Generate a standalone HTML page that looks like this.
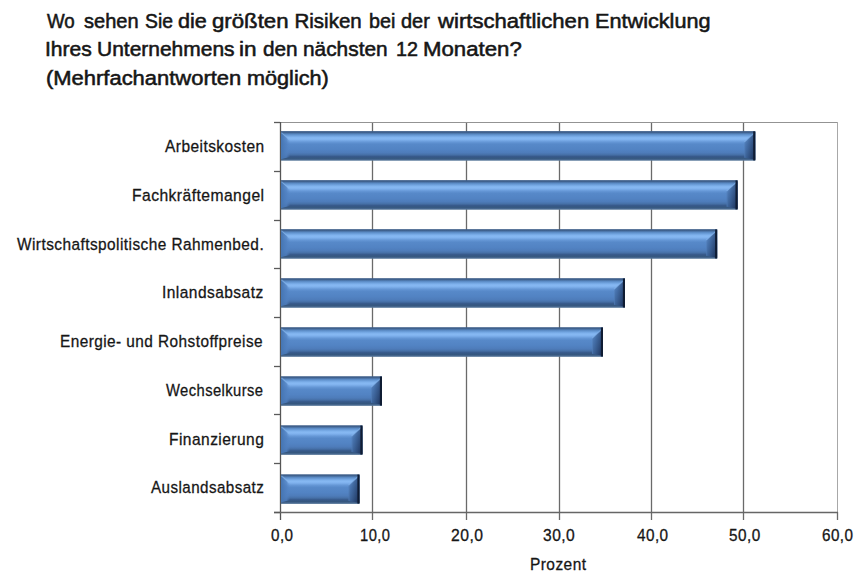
<!DOCTYPE html>
<html><head><meta charset="utf-8">
<style>
html,body{margin:0;padding:0;background:#fff;}
body{width:863px;height:584px;position:relative;overflow:hidden;font-family:"Liberation Sans",sans-serif;color:#161616;}
.t{position:absolute;white-space:nowrap;transform-origin:0 0;}
.title{font-size:20.5px;line-height:20.5px;-webkit-text-stroke:0.55px #161616;}
.lab{font-size:17.4px;line-height:17.4px;-webkit-text-stroke:0.3px #161616;letter-spacing:0.5px;}
.tk{font-size:17px;line-height:17px;}
svg{position:absolute;left:0;top:0;}
</style></head><body>

<svg width="863" height="584" viewBox="0 0 863 584">
<defs>
<linearGradient id="bg" x1="0" y1="0" x2="0" y2="1">
<stop offset="0" stop-color="#3c5c87"/>
<stop offset="0.05" stop-color="#40628f"/>
<stop offset="0.10" stop-color="#5888c2"/>
<stop offset="0.17" stop-color="#73a6e2"/>
<stop offset="0.23" stop-color="#87b9f3"/>
<stop offset="0.29" stop-color="#80b2ee"/>
<stop offset="0.37" stop-color="#6597d6"/>
<stop offset="0.44" stop-color="#5789c9"/>
<stop offset="0.62" stop-color="#5283c3"/>
<stop offset="0.73" stop-color="#4e7cba"/>
<stop offset="0.80" stop-color="#4670a7"/>
<stop offset="0.86" stop-color="#37598a"/>
<stop offset="0.92" stop-color="#35577f"/>
<stop offset="0.97" stop-color="#4a6a92"/>
<stop offset="1" stop-color="#5a7a9a"/>
</linearGradient>
<linearGradient id="rb" x1="0" y1="0" x2="1" y2="0.6">
<stop offset="0" stop-color="#4f7dba" stop-opacity="0.45"/>
<stop offset="0.45" stop-color="#3f679e" stop-opacity="0.92"/>
<stop offset="1" stop-color="#233c66"/>
</linearGradient>
<linearGradient id="lb" x1="0" y1="0" x2="1" y2="0">
<stop offset="0" stop-color="#4575b2"/>
<stop offset="0.6" stop-color="#5080c0" stop-opacity="0.8"/>
<stop offset="1" stop-color="#5687c8" stop-opacity="0"/>
</linearGradient>
</defs>
<rect x="280.5" y="122.5" width="557" height="390" fill="#fff" stroke="#a8a8a8" stroke-width="1"/>
<line x1="280" y1="122.5" x2="837" y2="122.5" stroke="#939393" stroke-width="1.1"/>
<line x1="372.5" y1="123" x2="372.5" y2="520" stroke="#6a6a6a" stroke-width="1.3"/>
<line x1="466.5" y1="123" x2="466.5" y2="520" stroke="#6a6a6a" stroke-width="1.3"/>
<line x1="559.5" y1="123" x2="559.5" y2="520" stroke="#6a6a6a" stroke-width="1.3"/>
<line x1="651.5" y1="123" x2="651.5" y2="520" stroke="#6a6a6a" stroke-width="1.3"/>
<line x1="743.5" y1="123" x2="743.5" y2="520" stroke="#6a6a6a" stroke-width="1.3"/>
<line x1="837.5" y1="512" x2="837.5" y2="520" stroke="#6a6a6a" stroke-width="1.3"/>
<line x1="280.5" y1="122" x2="280.5" y2="520" stroke="#555" stroke-width="1.3"/>
<line x1="274" y1="512.5" x2="838" y2="512.5" stroke="#666" stroke-width="1.3"/>
<line x1="274" y1="122.5" x2="280" y2="122.5" stroke="#5a5a5a" stroke-width="1.3"/>
<line x1="274" y1="171.5" x2="280" y2="171.5" stroke="#5a5a5a" stroke-width="1.3"/>
<line x1="274" y1="220.5" x2="280" y2="220.5" stroke="#5a5a5a" stroke-width="1.3"/>
<line x1="274" y1="268.5" x2="280" y2="268.5" stroke="#5a5a5a" stroke-width="1.3"/>
<line x1="274" y1="317.5" x2="280" y2="317.5" stroke="#5a5a5a" stroke-width="1.3"/>
<line x1="274" y1="366.5" x2="280" y2="366.5" stroke="#5a5a5a" stroke-width="1.3"/>
<line x1="274" y1="414.5" x2="280" y2="414.5" stroke="#5a5a5a" stroke-width="1.3"/>
<line x1="274" y1="463.5" x2="280" y2="463.5" stroke="#5a5a5a" stroke-width="1.3"/>
<line x1="274" y1="512.5" x2="280" y2="512.5" stroke="#5a5a5a" stroke-width="1.3"/>
<rect x="281" y="131.1" width="474.3" height="29.6" fill="url(#bg)"/>
<polygon points="281,132.6 290,140.1 290,156.7 281,159.2" fill="url(#lb)"/>
<line x1="281.5" y1="132.6" x2="289" y2="139.6" stroke="#8dbcf0" stroke-width="1.2" opacity="0.55"/>
<polygon points="755.3,132.1 744.3,142.1 744.3,157.7 755.3,159.7" fill="url(#rb)"/>
<line x1="754.8" y1="132.6" x2="744.3" y2="142.1" stroke="#86b6ee" stroke-width="1.2" opacity="0.6"/>
<line x1="744.8" y1="142.1" x2="744.8" y2="157.7" stroke="#6a9ad6" stroke-width="0.8" opacity="0.3"/>
<rect x="753.2" y="131.4" width="2.1" height="29" fill="#0f1c33"/>
<rect x="281" y="180.13" width="456.6" height="29.6" fill="url(#bg)"/>
<polygon points="281,181.63 290,189.13 290,205.73 281,208.23" fill="url(#lb)"/>
<line x1="281.5" y1="181.63" x2="289" y2="188.63" stroke="#8dbcf0" stroke-width="1.2" opacity="0.55"/>
<polygon points="737.6,181.13 726.6,191.13 726.6,206.73 737.6,208.73" fill="url(#rb)"/>
<line x1="737.1" y1="181.63" x2="726.6" y2="191.13" stroke="#86b6ee" stroke-width="1.2" opacity="0.6"/>
<line x1="727.1" y1="191.13" x2="727.1" y2="206.73" stroke="#6a9ad6" stroke-width="0.8" opacity="0.3"/>
<rect x="735.5" y="180.43" width="2.1" height="29" fill="#0f1c33"/>
<rect x="281" y="229.16" width="436.2" height="29.6" fill="url(#bg)"/>
<polygon points="281,230.66 290,238.16 290,254.76 281,257.26" fill="url(#lb)"/>
<line x1="281.5" y1="230.66" x2="289" y2="237.66" stroke="#8dbcf0" stroke-width="1.2" opacity="0.55"/>
<polygon points="717.2,230.16 706.2,240.16 706.2,255.76 717.2,257.76" fill="url(#rb)"/>
<line x1="716.7" y1="230.66" x2="706.2" y2="240.16" stroke="#86b6ee" stroke-width="1.2" opacity="0.6"/>
<line x1="706.7" y1="240.16" x2="706.7" y2="255.76" stroke="#6a9ad6" stroke-width="0.8" opacity="0.3"/>
<rect x="715.1" y="229.46" width="2.1" height="29" fill="#0f1c33"/>
<rect x="281" y="278.19" width="344" height="29.6" fill="url(#bg)"/>
<polygon points="281,279.69 290,287.19 290,303.79 281,306.29" fill="url(#lb)"/>
<line x1="281.5" y1="279.69" x2="289" y2="286.69" stroke="#8dbcf0" stroke-width="1.2" opacity="0.55"/>
<polygon points="625,279.19 614,289.19 614,304.79 625,306.79" fill="url(#rb)"/>
<line x1="624.5" y1="279.69" x2="614" y2="289.19" stroke="#86b6ee" stroke-width="1.2" opacity="0.6"/>
<line x1="614.5" y1="289.19" x2="614.5" y2="304.79" stroke="#6a9ad6" stroke-width="0.8" opacity="0.3"/>
<rect x="622.9" y="278.49" width="2.1" height="29" fill="#0f1c33"/>
<rect x="281" y="327.22" width="322" height="29.6" fill="url(#bg)"/>
<polygon points="281,328.72 290,336.22 290,352.82 281,355.32" fill="url(#lb)"/>
<line x1="281.5" y1="328.72" x2="289" y2="335.72" stroke="#8dbcf0" stroke-width="1.2" opacity="0.55"/>
<polygon points="603,328.22 592,338.22 592,353.82 603,355.82" fill="url(#rb)"/>
<line x1="602.5" y1="328.72" x2="592" y2="338.22" stroke="#86b6ee" stroke-width="1.2" opacity="0.6"/>
<line x1="592.5" y1="338.22" x2="592.5" y2="353.82" stroke="#6a9ad6" stroke-width="0.8" opacity="0.3"/>
<rect x="600.9" y="327.52" width="2.1" height="29" fill="#0f1c33"/>
<rect x="281" y="376.25" width="101" height="29.6" fill="url(#bg)"/>
<polygon points="281,377.75 290,385.25 290,401.85 281,404.35" fill="url(#lb)"/>
<line x1="281.5" y1="377.75" x2="289" y2="384.75" stroke="#8dbcf0" stroke-width="1.2" opacity="0.55"/>
<polygon points="382,377.25 371,387.25 371,402.85 382,404.85" fill="url(#rb)"/>
<line x1="381.5" y1="377.75" x2="371" y2="387.25" stroke="#86b6ee" stroke-width="1.2" opacity="0.6"/>
<line x1="371.5" y1="387.25" x2="371.5" y2="402.85" stroke="#6a9ad6" stroke-width="0.8" opacity="0.3"/>
<rect x="379.9" y="376.55" width="2.1" height="29" fill="#0f1c33"/>
<rect x="281" y="425.28" width="81.5" height="29.6" fill="url(#bg)"/>
<polygon points="281,426.78 290,434.28 290,450.88 281,453.38" fill="url(#lb)"/>
<line x1="281.5" y1="426.78" x2="289" y2="433.78" stroke="#8dbcf0" stroke-width="1.2" opacity="0.55"/>
<polygon points="362.5,426.28 351.5,436.28 351.5,451.88 362.5,453.88" fill="url(#rb)"/>
<line x1="362" y1="426.78" x2="351.5" y2="436.28" stroke="#86b6ee" stroke-width="1.2" opacity="0.6"/>
<line x1="352" y1="436.28" x2="352" y2="451.88" stroke="#6a9ad6" stroke-width="0.8" opacity="0.3"/>
<rect x="360.4" y="425.58" width="2.1" height="29" fill="#0f1c33"/>
<rect x="281" y="474.31" width="78.5" height="29.6" fill="url(#bg)"/>
<polygon points="281,475.81 290,483.31 290,499.91 281,502.41" fill="url(#lb)"/>
<line x1="281.5" y1="475.81" x2="289" y2="482.81" stroke="#8dbcf0" stroke-width="1.2" opacity="0.55"/>
<polygon points="359.5,475.31 348.5,485.31 348.5,500.91 359.5,502.91" fill="url(#rb)"/>
<line x1="359" y1="475.81" x2="348.5" y2="485.31" stroke="#86b6ee" stroke-width="1.2" opacity="0.6"/>
<line x1="349" y1="485.31" x2="349" y2="500.91" stroke="#6a9ad6" stroke-width="0.8" opacity="0.3"/>
<rect x="357.4" y="474.61" width="2.1" height="29" fill="#0f1c33"/>
</svg>
<div class="t title" style="left:47px;top:10.647px;transform:scaleX(0.913)">Wo</div>
<div class="t title" style="left:84.011px;top:10.647px;transform:scaleX(0.978)">sehen</div>
<div class="t title" style="left:144.55px;top:10.647px;transform:scaleX(0.943)">Sie</div>
<div class="t title" style="left:177.946px;top:10.647px;transform:scaleX(1.054)">die</div>
<div class="t title" style="left:212.438px;top:10.647px;transform:scaleX(1.084)">größten</div>
<div class="t title" style="left:294.5px;top:10.647px;transform:scaleX(1)">Risiken</div>
<div class="t title" style="left:368.538px;top:10.647px;transform:scaleX(0.962)">bei</div>
<div class="t title" style="left:401.027px;top:10.647px;transform:scaleX(0.973)">der</div>
<div class="t title" style="left:438.044px;top:10.647px;transform:scaleX(1.079)">wirtschaftlichen</div>
<div class="t title" style="left:594.944px;top:10.647px;transform:scaleX(1.056)">Entwicklung</div>
<div class="t title" style="left:44.933px;top:39.347px;transform:scaleX(1.028)">Ihres</div>
<div class="t title" style="left:96.961px;top:39.347px;transform:scaleX(1.023)">Unternehmens</div>
<div class="t title" style="left:239.363px;top:39.347px;transform:scaleX(1.102)">in</div>
<div class="t title" style="left:263.002px;top:39.347px;transform:scaleX(1.013)">den</div>
<div class="t title" style="left:303.47px;top:39.347px;transform:scaleX(1.017)">nächsten</div>
<div class="t title" style="left:395.571px;top:39.347px;transform:scaleX(0.963)">12</div>
<div class="t title" style="left:422.879px;top:39.347px;transform:scaleX(1.083)">Monaten?</div>
<div class="t title" style="left:45.929px;top:67.847px;transform:scaleX(1.071)">(Mehrfachantworten</div>
<div class="t title" style="left:247.417px;top:67.847px;transform:scaleX(1.056)">möglich)</div>
<div class="t lab" style="left:164.555px;top:138.046px;transform:scaleX(0.891)">Arbeitskosten</div>
<div class="t lab" style="left:131.662px;top:186.796px;transform:scaleX(0.9)">Fachkräftemangel</div>
<div class="t lab" style="left:16.563px;top:235.546px;transform:scaleX(0.886)">Wirtschaftspolitische Rahmenbed.</div>
<div class="t lab" style="left:162.107px;top:284.296px;transform:scaleX(0.893)">Inlandsabsatz</div>
<div class="t lab" style="left:60.116px;top:333.046px;transform:scaleX(0.884)">Energie- und Rohstoffpreise</div>
<div class="t lab" style="left:166px;top:381.796px;transform:scaleX(0.848)">Wechselkurse</div>
<div class="t lab" style="left:168.653px;top:430.546px;transform:scaleX(0.894)">Finanzierung</div>
<div class="t lab" style="left:151px;top:479.296px;transform:scaleX(0.873)">Auslandsabsatz</div>
<div class="t lab tk" style="left:271.05px;top:527.409px;transform:scaleX(0.897)">0,0</div>
<div class="t lab tk" style="left:359.673px;top:527.409px;transform:scaleX(0.867)">10,0</div>
<div class="t lab tk" style="left:450.515px;top:527.409px;transform:scaleX(0.924)">20,0</div>
<div class="t lab tk" style="left:543.019px;top:527.409px;transform:scaleX(0.918)">30,0</div>
<div class="t lab tk" style="left:637.065px;top:527.409px;transform:scaleX(0.9)">40,0</div>
<div class="t lab tk" style="left:729.031px;top:527.409px;transform:scaleX(0.901)">50,0</div>
<div class="t lab tk" style="left:821.591px;top:527.409px;transform:scaleX(0.897)">60,0</div>
<div class="t lab" style="left:530.11px;top:555.971px;transform:scaleX(0.89)">Prozent</div>
</body></html>
